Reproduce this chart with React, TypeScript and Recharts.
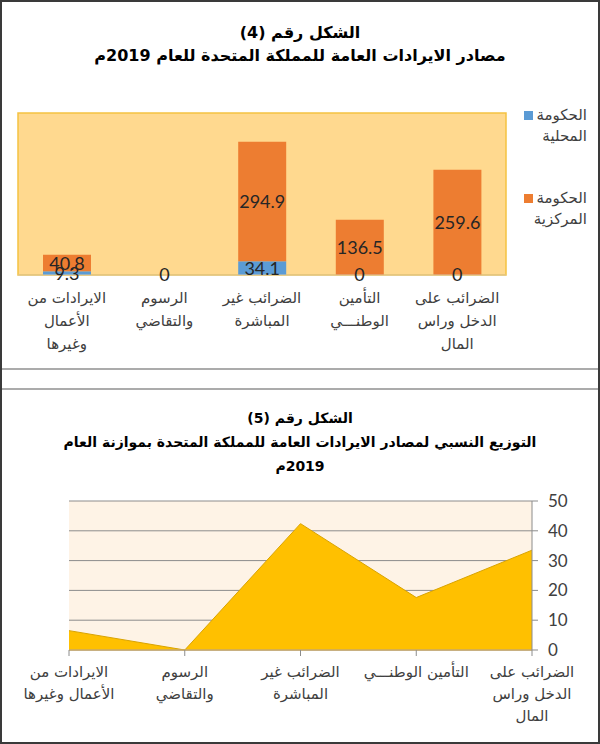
import React from "react";
import {
  BarChart,
  Bar,
  XAxis,
  YAxis,
  LabelList,
  ReferenceArea,
  ReferenceDot,
  AreaChart,
  Area,
  CartesianGrid,
} from "recharts";

const categories = [
  "الايرادات من الأعمال وغيرها",
  "الرسوم والتقاضي",
  "الضرائب غير المباشرة",
  "التأمين الوطني",
  "الضرائب على الدخل وراس المال",
];
const localGov = [9.3, 0, 34.1, 0, 0];
const centralGov = [40.8, 0, 294.9, 136.5, 259.6];
const sharePct = [6.5, 0, 42.4, 17.6, 33.5];

const barTickLines = [
  ["الايرادات من", "الأعمال", "وغيرها"],
  ["الرسوم", "والتقاضي"],
  ["الضرائب غير", "المباشرة"],
  ["التأمين", "الوطنـــي"],
  ["الضرائب على", "الدخل وراس", "المال"],
];
const areaTickLines = [
  ["الايرادات من", "الأعمال وغيرها"],
  ["الرسوم", "والتقاضي"],
  ["الضرائب غير", "المباشرة"],
  ["التأمين الوطنـــي"],
  ["الضرائب على", "الدخل وراس", "المال"],
];
const shareTicks = [0, 10, 20, 30, 40, 50];

const series = [
  { key: "local", name: "الحكومة المحلية", color: "#5B9BD5" },
  { key: "central", name: "الحكومة المركزية", color: "#ED7D31" },
];

const barData = categories.map((name, i) => ({
  name,
  local: localGov[i],
  central: centralGov[i],
}));
const areaData = categories.map((name, i) => ({ name, share: sharePct[i] }));

// zero-height segments still get their "0" label, at the stack position
const zeroLabels: { name: string; y: number }[] = [];
categories.forEach((name, i) => {
  if (localGov[i] === 0) zeroLabels.push({ name, y: 0 });
  if (centralGov[i] === 0 && localGov[i] !== 0) zeroLabels.push({ name, y: localGov[i] });
});

const AR = "'DejaVu Sans', sans-serif";
const NUM = "Lato, 'DejaVu Sans', sans-serif";
const LABEL_STYLE = { fill: "#262626", fontSize: 18, fontFamily: NUM };

function makeTick(lines: string[][], firstDy: number, lineH: number, size: number) {
  return (props: any) => {
    const { x, y, payload } = props;
    const idx = categories.indexOf(payload.value);
    const rows = lines[idx] || [payload.value];
    return (
      <text x={x} y={y} textAnchor="middle" fill="#404040" fontSize={size} fontFamily={AR}>
        {rows.map((r, i) => (
          <tspan key={i} x={x} dy={i === 0 ? firstDy : lineH}>
            {r}
          </tspan>
        ))}
      </text>
    );
  };
}

function segmentLabel(props: any) {
  const { x, y, width, height, value } = props;
  if (!value) return null;
  return (
    <text
      x={x + width / 2}
      y={y + height / 2}
      textAnchor="middle"
      dominantBaseline="central"
      {...LABEL_STYLE}
    >
      {value}
    </text>
  );
}

// legend drawn as html next to the bar chart
function BarLegend() {
  return (
    <div
      style={{
        position: "absolute",
        left: 513,
        top: 103,
        width: 72,
        direction: "rtl",
        fontFamily: AR,
        fontSize: 15,
        color: "#404040",
      }}
    >
      {series.map((s, i) => {
        const words = s.name.split(" ");
        return (
          <div key={i} style={{ textAlign: "right", lineHeight: "21px", marginBottom: 41 }}>
            <div>
              {words[0]}
              <span
                style={{
                  display: "inline-block",
                  width: 9,
                  height: 9,
                  background: s.color,
                  marginRight: 3,
                }}
              />
            </div>
            <div>{words.slice(1).join(" ")}</div>
          </div>
        );
      })}
    </div>
  );
}

const titleStyle: React.CSSProperties = {
  position: "absolute",
  left: 0,
  width: 600,
  textAlign: "center",
  direction: "rtl",
  fontFamily: AR,
  fontWeight: "bold",
  color: "#000",
};

export default function App() {
  return (
    <div
      style={{
        position: "absolute",
        left: 0,
        top: 0,
        width: 600,
        height: 744,
        background: "#fff",
        boxSizing: "border-box",
        border: "2px solid #3a3a3a",
        overflow: "hidden",
      }}
    >
      <div style={{ ...titleStyle, left: -2, top: 19, fontSize: 16, lineHeight: "23px" }}>
        <div>الشكل رقم (4)</div>
        <div>مصادر الايرادات العامة للمملكة المتحدة للعام 2019م</div>
      </div>

      <div style={{ position: "absolute", left: -2, top: -2 }}>
        <BarChart
          width={600}
          height={368}
          data={barData}
          margin={{ top: 113, left: 18, right: 94, bottom: 13 }}
        >
          <ReferenceArea
            y1={0}
            y2={400}
            fill="#FFD98F"
            fillOpacity={1}
            stroke="#F5C242"
            strokeWidth={1.5}
          />
          <YAxis hide domain={[0, 400]} />
          <XAxis
            dataKey="name"
            height={80}
            tickLine={false}
            tickSize={0}
            tickMargin={0}
            axisLine={{ stroke: "#D6C7A6" }}
            interval={0}
            tick={makeTick(barTickLines, 28, 23, 15)}
          />
          {series.map((s) => (
            <Bar
              key={s.key}
              dataKey={s.key}
              name={s.name}
              stackId="s"
              fill={s.color}
              barSize={48}
              isAnimationActive={false}
            >
              <LabelList dataKey={s.key} content={segmentLabel} />
            </Bar>
          ))}
          {zeroLabels.map((z) => (
            <ReferenceDot
              key={z.name}
              x={z.name}
              y={z.y}
              r={1}
              fill="none"
              stroke="none"
              label={{ value: "0", position: "center", ...LABEL_STYLE }}
            />
          ))}
        </BarChart>
      </div>
      <BarLegend />

      <div style={{ position: "absolute", left: -2, top: 366, width: 600, height: 2, background: "#ababab" }} />
      <div style={{ position: "absolute", left: -2, top: 386, width: 600, height: 2, background: "#ababab" }} />

      <div style={{ ...titleStyle, left: -2, top: 404, fontSize: 14, lineHeight: "24px" }}>
        <div>الشكل رقم (5)</div>
        <div>التوزيع النسبي لمصادر الايرادات العامة للمملكة المتحدة بموازنة العام</div>
        <div>2019م</div>
      </div>

      <div style={{ position: "absolute", left: -2, top: 386 }}>
        <AreaChart
          width={600}
          height={358}
          data={areaData}
          margin={{ top: 113, left: 69, right: 18, bottom: 10 }}
        >
          <CartesianGrid vertical={false} stroke="#8c8c8c" fill="#FEF3E6" />
          <XAxis
            dataKey="name"
            height={86}
            tickSize={6}
            tickMargin={0}
            tickLine={{ stroke: "#8c8c8c" }}
            axisLine={{ stroke: "#C9A96A", strokeWidth: 1.5 }}
            interval={0}
            tick={makeTick(areaTickLines, 21, 22, 15)}
          />
          <YAxis
            orientation="right"
            width={50}
            domain={[0, 50]}
            ticks={shareTicks}
            tickSize={6}
            tickMargin={10}
            axisLine={{ stroke: "#8c8c8c" }}
            tickLine={{ stroke: "#8c8c8c" }}
            tick={{ fill: "#404040", fontSize: 17, fontFamily: NUM }}
          />
          <Area
            type="linear"
            dataKey="share"
            stroke="#D9A300"
            strokeWidth={1}
            fill="#FFC000"
            fillOpacity={1}
            isAnimationActive={false}
          />
        </AreaChart>
      </div>
    </div>
  );
}
